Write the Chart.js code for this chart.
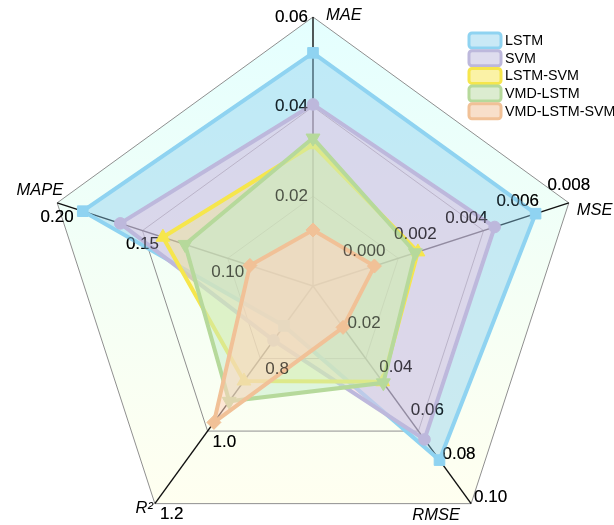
<!DOCTYPE html>
<html>
<head>
<meta charset="utf-8">
<script src="https://cdn.jsdelivr.net/npm/chart.js@4/dist/chart.umd.min.js"></script>
<style>
  html, body { margin: 0; padding: 0; background: #ffffff; overflow: hidden; }
  #wrap { position: absolute; left: 0; top: 0; width: 614px; height: 560px; }
</style>
</head>
<body>
<div id="wrap"><canvas id="c"></canvas></div>
<script>
// Error metrics on five axes, each axis with its own range
const categories = ['MAE', 'MSE', 'RMSE', 'R²', 'MAPE'];
const axisMin = [0, -0.002, 0, 0.6, 0.05];
const axisMax = [0.06, 0.008, 0.10, 1.2, 0.20];

// Tick labels along each axis
const maeTicks = [0.02, 0.04, 0.06];
const mseTicks = [0.000, 0.002, 0.004, 0.006, 0.008];
const rmseTicks = [0.02, 0.04, 0.06, 0.08, 0.10];
const r2Ticks = [0.8, 1.0, 1.2];
const mapeTicks = [0.10, 0.15, 0.20];
const tickDecimals = [2, 3, 2, 1, 2];

// Model scores: MAE, MSE, RMSE, R², MAPE
const seriesNames = ['LSTM', 'SVM', 'LSTM-SVM', 'VMD-LSTM', 'VMD-LSTM-SVM'];
const lstm = [0.052, 0.0067, 0.080, 0.710, 0.185];
const svm = [0.0405, 0.0051, 0.0705, 0.750, 0.163];
const lstmSvm = [0.0315, 0.0021, 0.0440, 0.862, 0.138];
const vmdLstm = [0.0330, 0.0020, 0.0445, 0.918, 0.125];
const vmdLstmSvm = [0.0125, 0.0004, 0.0190, 0.976, 0.087];

// Map a raw value on axis i to the shared 0..1 radial scale
const toUnit = (v, i) => (v - axisMin[i]) / (axisMax[i] - axisMin[i]);
const normalize = arr => arr.map((v, i) => toUnit(v, i));

const styles = [
  { line: '#8fd3f1', fill: 'rgba(135,205,238,0.42)', box: '#c9e9f6', point: 'rect', radius: 7.5, rot: 0 },
  { line: '#bdb8dc', fill: 'rgba(243,194,224,0.45)', box: '#dedcee', point: 'circle', radius: 5.8, rot: 0 },
  { line: '#f6e64c', fill: 'rgba(248,236,120,0.35)', box: '#fbf2a6', point: 'triangle', radius: 8, rot: 0 },
  { line: '#b6d99b', fill: 'rgba(195,235,200,0.5)', box: '#dcecd0', point: 'triangle', radius: 8, rot: 180 },
  { line: '#f1c197', fill: 'rgba(255,212,190,0.55)', box: '#f8dfca', point: 'rectRot', radius: 7, rot: 0 }
];

const seriesValues = [lstm, svm, lstmSvm, vmdLstm, vmdLstmSvm];
const datasets = seriesValues.map((vals, k) => ({
  label: seriesNames[k],
  data: normalize(vals),
  borderColor: styles[k].line,
  backgroundColor: styles[k].fill,
  borderWidth: 4,
  fill: true,
  pointStyle: styles[k].point,
  pointRotation: styles[k].rot,
  pointRadius: styles[k].radius,
  pointBackgroundColor: styles[k].line,
  pointBorderColor: styles[k].line,
  pointBorderWidth: 1,
  order: seriesValues.length - k
}));

const FONT = "'Liberation Sans', Arial, Helvetica, sans-serif";

// Gradient panel inside the outer pentagon
const panelBackground = {
  id: 'panelBackground',
  beforeDraw(chart) {
    const s = chart.scales.r;
    const ctx = chart.ctx;
    const n = categories.length;
    const pts = [];
    for (let i = 0; i < n; i++) pts.push(s.getPointPositionForValue(i, 1));
    const top = Math.min(...pts.map(p => p.y));
    const bottom = Math.max(...pts.map(p => p.y));
    const g = ctx.createLinearGradient(0, top, 0, bottom);
    g.addColorStop(0, '#e4ffff');
    g.addColorStop(0.5, '#f3fff6');
    g.addColorStop(1, '#fffff0');
    ctx.save();
    ctx.beginPath();
    pts.forEach((p, i) => i ? ctx.lineTo(p.x, p.y) : ctx.moveTo(p.x, p.y));
    ctx.closePath();
    ctx.fillStyle = g;
    ctx.fill();
    ctx.restore();
  }
};

// Per-axis tick labels: a solid pass under the series, then a
// half-strength pass on top so labels inside the fills stay readable
const axisTicks = [maeTicks, mseTicks, rmseTicks, r2Ticks, mapeTicks];
const tickPlacement = [
  { dx: -5, dy: 0, align: 'right' },
  { dx: 0, dy: -18, align: 'center' },
  { dx: 3, dy: -6, align: 'left' },
  { dx: 5, dy: 11, align: 'left' },
  { dx: 0, dy: 14, align: 'center' }
];
function drawTickLabels(chart, alpha) {
  const s = chart.scales.r;
  const ctx = chart.ctx;
  ctx.save();
  ctx.globalAlpha = alpha;
  ctx.font = '17px ' + FONT;
  ctx.fillStyle = '#000000';
  ctx.textBaseline = 'middle';
  axisTicks.forEach((ticks, i) => {
    const pl = tickPlacement[i];
    ctx.textAlign = pl.align;
    ticks.forEach(t => {
      const p = s.getPointPositionForValue(i, toUnit(t, i));
      ctx.fillText(t.toFixed(tickDecimals[i]), p.x + pl.dx, p.y + pl.dy);
    });
  });
  ctx.restore();
}
const axisTickLabels = {
  id: 'axisTickLabels',
  beforeDatasetsDraw(chart) { drawTickLabels(chart, 1); },
  afterDatasetsDraw(chart) { drawTickLabels(chart, 0.6); }
};

// Axis names at the outer corners, plus the legend box
const titlePlacement = [
  { dx: 13, dy: -2, align: 'left' },
  { dx: 8, dy: 8, align: 'left' },
  { dx: -35, dy: 12, align: 'center' },
  { dx: -2, dy: 5, align: 'right' },
  { dx: 6, dy: -12, align: 'right' }
];
const axisTitlesAndLegend = {
  id: 'axisTitlesAndLegend',
  afterDraw(chart) {
    const s = chart.scales.r;
    const ctx = chart.ctx;
    ctx.save();
    ctx.font = 'italic 16.5px ' + FONT;
    ctx.fillStyle = '#000000';
    ctx.textBaseline = 'middle';
    categories.forEach((name, i) => {
      const p = s.getPointPositionForValue(i, 1);
      const pl = titlePlacement[i];
      ctx.textAlign = pl.align;
      ctx.fillText(name, p.x + pl.dx, p.y + pl.dy);
    });

    // legend
    const lx = 469, ly = 33, rowH = 17.7, bw = 32, bh = 15;
    ctx.font = '14.3px ' + FONT;
    ctx.textAlign = 'left';
    chart.data.datasets.forEach((ds, k) => {
      const y = ly + k * rowH;
      ctx.beginPath();
      ctx.roundRect(lx, y, bw, bh, 3);
      ctx.fillStyle = styles[k].box;
      ctx.fill();
      ctx.lineWidth = 3;
      ctx.strokeStyle = styles[k].line;
      ctx.stroke();
      ctx.fillStyle = '#000000';
      ctx.fillText(ds.label, lx + 36, y + bh / 2 + 0.5);
    });
    ctx.restore();
  }
};

new Chart(document.getElementById('c'), {
  type: 'radar',
  data: { labels: categories, datasets },
  options: {
    responsive: true,
    maintainAspectRatio: false,
    animation: false,
    layout: { padding: { left: 12, right: 0, top: 17, bottom: 5 } },
    elements: { line: { tension: 0 } },
    plugins: {
      legend: { display: false },
      tooltip: { enabled: false }
    },
    scales: {
      r: {
        min: 0,
        max: 1,
        startAngle: 0,
        ticks: { display: false, count: 4 },
        pointLabels: { display: false },
        grid: { circular: false, color: '#8f8f8f', lineWidth: 1 },
        angleLines: { color: '#111111', lineWidth: 1.4 }
      }
    }
  },
  plugins: [panelBackground, axisTickLabels, axisTitlesAndLegend]
});
</script>
</body>
</html>
